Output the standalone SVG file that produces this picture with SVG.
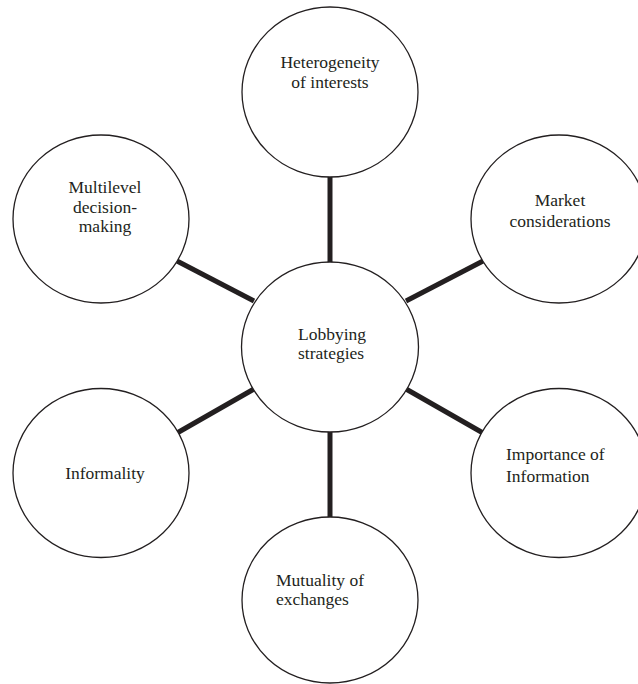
<svg xmlns="http://www.w3.org/2000/svg" width="638" height="684" viewBox="0 0 638 684">
<style>
.n{fill:#fff;stroke:#231f20;stroke-width:1.3}
.c{stroke:#231f20;stroke-width:5;fill:none}
text{font-family:"Liberation Serif","Times New Roman",serif;font-size:17.5px;fill:#231f20}
.m{text-anchor:middle}
</style>
<rect width="638" height="684" fill="#fff"/>
<g id="connectors">
<line class="c" x1="330" y1="176" x2="330" y2="263"/>
<line class="c" x1="330" y1="431" x2="330" y2="518"/>
<line class="c" x1="177" y1="261" x2="254" y2="301"/>
<line class="c" x1="483" y1="261" x2="406" y2="301"/>
<line class="c" x1="177" y1="433" x2="254" y2="389"/>
<line class="c" x1="483" y1="433" x2="406" y2="389"/>
</g>
<g id="center">
<ellipse class="n" cx="330" cy="347" rx="88.5" ry="85"/>
<text x="298" y="340">Lobbying</text>
<text x="298" y="359">strategies</text>
</g>
<g id="heterogeneity">
<ellipse class="n" cx="330" cy="92" rx="88" ry="85"/>
<text class="m" x="330" y="68">Heterogeneity</text>
<text class="m" x="330" y="87.5">of interests</text>
</g>
<g id="multilevel">
<ellipse class="n" cx="101" cy="219" rx="88" ry="84"/>
<text class="m" x="105" y="193">Multilevel</text>
<text class="m" x="105" y="212.5">decision-</text>
<text class="m" x="105" y="232">making</text>
</g>
<g id="market">
<ellipse class="n" cx="559" cy="219" rx="88" ry="84"/>
<text class="m" x="560" y="206">Market</text>
<text class="m" x="560" y="226.5">considerations</text>
</g>
<g id="informality">
<ellipse class="n" cx="101" cy="473" rx="88" ry="84.5"/>
<text class="m" x="105" y="479">Informality</text>
</g>
<g id="importance">
<ellipse class="n" cx="559" cy="473" rx="88" ry="84.5"/>
<text x="506" y="460">Importance of</text>
<text x="506" y="481.5">Information</text>
</g>
<g id="mutuality">
<ellipse class="n" cx="330" cy="600" rx="88" ry="83"/>
<text x="276" y="586">Mutuality of</text>
<text x="276" y="605">exchanges</text>
</g>
</svg>
